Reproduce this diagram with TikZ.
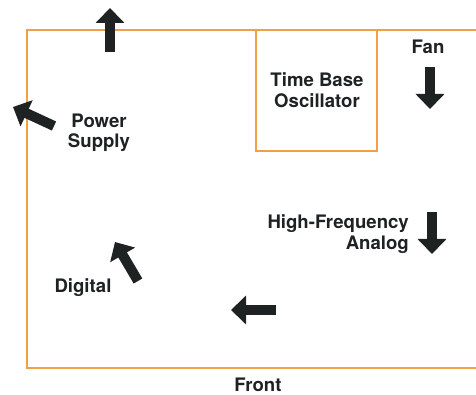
\documentclass[tikz,border=0pt]{standalone}
\usepackage{fontspec}
\setmainfont{TeX Gyre Heros}
\usetikzlibrary{arrows.meta}
\definecolor{caseorange}{RGB}{242,160,72}
\definecolor{inkblack}{RGB}{30,34,34}
\tikzset{
  airflow/.style={line width=10pt,line cap=butt,color=inkblack,
    -{Triangle[length=15pt,width=28pt]}},
  label/.style={font=\fontsize{18.6}{20.5}\selectfont\bfseries,color=inkblack,align=center,inner sep=0pt},
  wall/.style={line width=2pt,color=caseorange}
}
\begin{document}
\begin{tikzpicture}[line join=miter,x=1pt,y=-1pt]
    \useasboundingbox (0,0) rectangle (476,395);
    % cabinet outline, open to the right
    \draw[wall] (476,30) -- (27,30) -- (27,368) -- (476,368);
    \draw[wall] (256,30) -- (256,151) -- (377,151) -- (377,30);
    % labels
    \node[label] (tbo) at (317,90) {Time Base\\Oscillator};
    \node[label] (fan) at (428,47) {Fan};
    \node[label] (psu) at (99,133) {Power\\Supply};
    \node[label,align=right,anchor=east] (hfa) at (409,234) {High-Frequency\\Analog};
    \node[label] (dig) at (83,288) {Digital};
    \node[label] (front) at (258,385) {Front};
    % air flow
    \coordinate (topA) at (110,52);   \coordinate (topB) at (110,8);
    \coordinate (psuA) at (54,126);   \coordinate (psuB) at (13,107);
    \coordinate (fanA) at (430,67);   \coordinate (fanB) at (430,109);
    \coordinate (hfaA) at (432,212);  \coordinate (hfaB) at (432,254);
    \coordinate (digA) at (138,281);  \coordinate (digB) at (115,242);
    \coordinate (botA) at (276,310);  \coordinate (botB) at (231,310);
    \foreach \a/\b in {topA/topB,psuA/psuB,fanA/fanB,hfaA/hfaB,digA/digB,botA/botB}
    \draw[airflow] (\a) -- (\b);
\end{tikzpicture}
\end{document}
